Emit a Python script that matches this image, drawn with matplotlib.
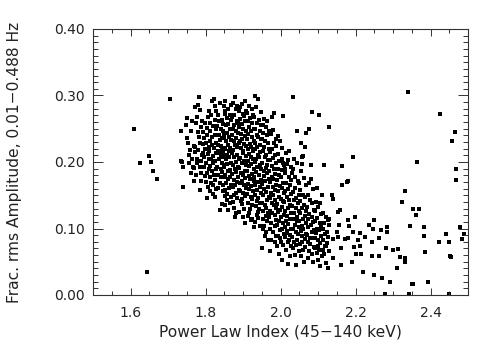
import matplotlib
matplotlib.use("Agg")
import matplotlib.pyplot as plt
from matplotlib.ticker import MultipleLocator, FormatStrFormatter

# ---------------- data (power-law index, fractional rms) ----------------
left_pts = [
    (1.609, 0.249), (1.649, 0.209), (1.624, 0.198), (1.655, 0.200), (1.660, 0.186),
    (1.670, 0.174), (1.706, 0.294), (1.741, 0.162), (1.735, 0.202), (1.739, 0.192),
    (1.735, 0.246), (1.748, 0.255), (1.736, 0.200), (1.739, 0.193), (1.645, 0.035),
]

col_175 = [
    (1.751, 0.266), (1.750, 0.236), (1.754, 0.228), (1.758, 0.218), (1.762, 0.247),
    (1.765, 0.205), (1.757, 0.199), (1.768, 0.191), (1.760, 0.184), (1.767, 0.193),
    (1.770, 0.172), (1.763, 0.262), (1.769, 0.224), (1.755, 0.210),
    (1.773, 0.283), (1.780, 0.285), (1.785, 0.278), (1.776, 0.267), (1.783, 0.297),
    (1.772, 0.215), (1.776, 0.199), (1.775, 0.180), (1.787, 0.183), (1.790, 0.211),
    (1.771, 0.223), (1.785, 0.158), (1.779, 0.245), (1.782, 0.238), (1.786, 0.228),
    (1.788, 0.252), (1.778, 0.205), (1.784, 0.192), (1.789, 0.171), (1.774, 0.258),
    (1.781, 0.218), (1.787, 0.201),
]

col_179 = [
    (1.791, 0.261), (1.799, 0.258), (1.806, 0.267), (1.799, 0.179), (1.803, 0.184),
    (1.793, 0.245), (1.796, 0.236), (1.801, 0.229), (1.805, 0.240), (1.808, 0.222),
    (1.794, 0.214), (1.797, 0.207), (1.802, 0.198), (1.807, 0.212), (1.809, 0.190),
    (1.795, 0.193), (1.800, 0.170), (1.806, 0.163), (1.804, 0.251), (1.792, 0.227),
    (1.808, 0.276), (1.798, 0.219), (1.810, 0.205), (1.803, 0.146),
]

col_181 = [
    (1.816, 0.292), (1.823, 0.294), (1.825, 0.284), (1.828, 0.277),
    (1.815, 0.270), (1.826, 0.263), (1.811, 0.259), (1.821, 0.254), (1.829, 0.250),
    (1.813, 0.246), (1.824, 0.241), (1.818, 0.237), (1.812, 0.232), (1.827, 0.229),
    (1.816, 0.225), (1.822, 0.221), (1.810, 0.217), (1.828, 0.213), (1.819, 0.209),
    (1.814, 0.205), (1.825, 0.202), (1.820, 0.198), (1.812, 0.194), (1.829, 0.190),
    (1.817, 0.186), (1.823, 0.181), (1.811, 0.177), (1.826, 0.173), (1.815, 0.169),
    (1.821, 0.165), (1.828, 0.160), (1.813, 0.156), (1.819, 0.152), (1.824, 0.147),
]

col_183 = [
    (1.848, 0.284), (1.852, 0.272), (1.838, 0.288), (1.834, 0.271), (1.843, 0.263),
    (1.846, 0.257), (1.831, 0.254), (1.840, 0.249), (1.847, 0.246), (1.850, 0.238),
    (1.835, 0.241), (1.839, 0.233), (1.845, 0.236), (1.833, 0.226), (1.842, 0.224),
    (1.849, 0.221), (1.832, 0.217), (1.837, 0.213), (1.846, 0.214), (1.851, 0.207),
    (1.836, 0.204), (1.843, 0.199), (1.848, 0.196), (1.831, 0.193), (1.841, 0.189),
    (1.845, 0.185), (1.834, 0.181), (1.840, 0.177), (1.850, 0.178), (1.838, 0.169),
    (1.846, 0.166), (1.851, 0.149), (1.844, 0.137), (1.839, 0.128), (1.833, 0.161),
    (1.847, 0.156), (1.836, 0.262), (1.844, 0.218), (1.840, 0.208), (1.849, 0.192),
]

col_185 = [
    (1.853, 0.291), (1.867, 0.286), (1.859, 0.279), (1.851, 0.277), (1.864, 0.270),
    (1.856, 0.266), (1.869, 0.263), (1.861, 0.257), (1.854, 0.255), (1.865, 0.249),
    (1.858, 0.244), (1.850, 0.242), (1.862, 0.238), (1.868, 0.233), (1.855, 0.231),
    (1.860, 0.226), (1.866, 0.221), (1.852, 0.219), (1.863, 0.216), (1.857, 0.211),
    (1.862, 0.208), (1.854, 0.205), (1.868, 0.199), (1.857, 0.197), (1.850, 0.193),
    (1.865, 0.188), (1.859, 0.186), (1.852, 0.181), (1.866, 0.178), (1.860, 0.174),
    (1.855, 0.169), (1.869, 0.166), (1.863, 0.161), (1.851, 0.158), (1.858, 0.152),
    (1.867, 0.147), (1.856, 0.143), (1.864, 0.139), (1.853, 0.136), (1.861, 0.128),
]

col_187 = [
    (1.878, 0.297), (1.872, 0.289), (1.885, 0.284), (1.881, 0.280), (1.889, 0.276),
    (1.875, 0.271), (1.870, 0.268), (1.883, 0.262), (1.887, 0.259), (1.877, 0.256),
    (1.873, 0.250), (1.880, 0.247), (1.886, 0.243), (1.871, 0.241), (1.882, 0.236),
    (1.876, 0.232), (1.888, 0.229), (1.879, 0.225), (1.884, 0.222), (1.874, 0.218),
    (1.871, 0.214), (1.883, 0.210), (1.876, 0.207), (1.889, 0.204), (1.880, 0.200),
    (1.873, 0.196), (1.886, 0.192), (1.878, 0.189), (1.882, 0.185), (1.870, 0.182),
    (1.887, 0.178), (1.875, 0.173), (1.884, 0.170), (1.879, 0.166), (1.872, 0.163),
    (1.888, 0.158), (1.881, 0.154), (1.877, 0.151), (1.885, 0.146), (1.874, 0.140),
    (1.875, 0.131), (1.882, 0.124), (1.879, 0.117),
]

col_189 = [
    (1.904, 0.291), (1.896, 0.287), (1.891, 0.282), (1.908, 0.277), (1.899, 0.272),
    (1.902, 0.269), (1.893, 0.265), (1.906, 0.261), (1.897, 0.257), (1.890, 0.253),
    (1.901, 0.249), (1.909, 0.246), (1.894, 0.242), (1.905, 0.239), (1.898, 0.235),
    (1.892, 0.231), (1.903, 0.227), (1.907, 0.224), (1.895, 0.221), (1.900, 0.217),
    (1.899, 0.213), (1.907, 0.209), (1.892, 0.206), (1.902, 0.202), (1.896, 0.198),
    (1.909, 0.195), (1.890, 0.191), (1.904, 0.187), (1.894, 0.184), (1.901, 0.180),
    (1.906, 0.176), (1.897, 0.172), (1.891, 0.169), (1.903, 0.165), (1.908, 0.161),
    (1.893, 0.157), (1.900, 0.153), (1.905, 0.149), (1.898, 0.145), (1.895, 0.141),
    (1.896, 0.137), (1.903, 0.130), (1.890, 0.125), (1.899, 0.118), (1.906, 0.108),
]

col_191 = [
    (1.932, 0.300),
    (1.915, 0.284), (1.923, 0.279), (1.910, 0.274), (1.927, 0.270), (1.919, 0.266),
    (1.912, 0.262), (1.925, 0.258), (1.917, 0.253), (1.929, 0.250), (1.921, 0.246),
    (1.914, 0.242), (1.924, 0.238), (1.911, 0.235), (1.928, 0.231), (1.918, 0.227),
    (1.922, 0.223), (1.913, 0.220), (1.926, 0.216), (1.916, 0.212), (1.920, 0.208),
    (1.926, 0.205), (1.913, 0.201), (1.921, 0.197), (1.917, 0.194), (1.929, 0.190),
    (1.910, 0.186), (1.924, 0.182), (1.915, 0.179), (1.919, 0.175), (1.928, 0.171),
    (1.912, 0.167), (1.922, 0.164), (1.916, 0.160), (1.927, 0.156), (1.911, 0.152),
    (1.920, 0.148), (1.925, 0.144), (1.914, 0.139), (1.923, 0.135), (1.918, 0.129),
    (1.917, 0.124), (1.912, 0.119), (1.924, 0.114), (1.920, 0.113), (1.928, 0.102),
]

col_193 = [
    (1.941, 0.294), (1.934, 0.282), (1.947, 0.275), (1.930, 0.268), (1.943, 0.263),
    (1.938, 0.259), (1.949, 0.255), (1.932, 0.250), (1.945, 0.246), (1.936, 0.241),
    (1.940, 0.238), (1.948, 0.234), (1.933, 0.229), (1.944, 0.226), (1.937, 0.222),
    (1.931, 0.219), (1.946, 0.215), (1.939, 0.211), (1.942, 0.207), (1.935, 0.204),
    (1.932, 0.200), (1.945, 0.196), (1.938, 0.192), (1.949, 0.189), (1.935, 0.185),
    (1.942, 0.181), (1.930, 0.177), (1.947, 0.173), (1.940, 0.170), (1.933, 0.166),
    (1.944, 0.162), (1.937, 0.158), (1.948, 0.154), (1.931, 0.150), (1.941, 0.146),
    (1.936, 0.142), (1.946, 0.138), (1.934, 0.134), (1.943, 0.129), (1.939, 0.125),
    (1.936, 0.120), (1.941, 0.116), (1.931, 0.110), (1.946, 0.104),
]

col_195 = [
    (1.957, 0.265), (1.965, 0.261), (1.952, 0.256), (1.961, 0.252), (1.968, 0.247),
    (1.954, 0.243), (1.963, 0.240), (1.950, 0.235), (1.959, 0.231), (1.966, 0.228),
    (1.956, 0.223), (1.969, 0.219), (1.953, 0.216), (1.962, 0.211), (1.958, 0.208),
    (1.967, 0.203), (1.951, 0.199), (1.964, 0.196), (1.960, 0.191), (1.955, 0.187),
    (1.963, 0.184), (1.955, 0.179), (1.968, 0.175), (1.959, 0.172), (1.951, 0.167),
    (1.966, 0.163), (1.957, 0.160), (1.961, 0.155), (1.953, 0.151), (1.969, 0.148),
    (1.964, 0.143), (1.950, 0.139), (1.958, 0.136), (1.962, 0.131), (1.954, 0.127),
    (1.967, 0.124), (1.960, 0.119), (1.952, 0.115), (1.965, 0.111), (1.956, 0.104),
    (1.954, 0.099), (1.962, 0.094), (1.958, 0.088), (1.967, 0.082), (1.951, 0.070),
]

col_197 = [
    (1.976, 0.267), (1.982, 0.273), (1.981, 0.248), (1.988, 0.234), (1.972, 0.100),
    (1.985, 0.104), (1.974, 0.109), (1.988, 0.113), (1.990, 0.074),
    (1.974, 0.242), (1.982, 0.229), (1.988, 0.224), (1.977, 0.220), (1.971, 0.215),
    (1.985, 0.211), (1.980, 0.206), (1.973, 0.203), (1.989, 0.198), (1.978, 0.194),
    (1.983, 0.190), (1.970, 0.186), (1.986, 0.182), (1.976, 0.178), (1.981, 0.175),
    (1.972, 0.170), (1.987, 0.166), (1.979, 0.163), (1.984, 0.158), (1.975, 0.154),
    (1.980, 0.151), (1.971, 0.146), (1.986, 0.143), (1.976, 0.139), (1.983, 0.135),
    (1.989, 0.131), (1.973, 0.127), (1.978, 0.123), (1.985, 0.120), (1.970, 0.117),
    (1.981, 0.094), (1.988, 0.089), (1.975, 0.083), (1.984, 0.079), (1.972, 0.066),
]

col_199 = [
    (1.994, 0.239), (1.999, 0.231), (2.003, 0.221), (2.006, 0.269), (1.994, 0.189),
    (2.003, 0.188), (2.007, 0.198), (1.999, 0.085),
    (1.992, 0.212), (2.004, 0.205), (1.997, 0.201), (2.009, 0.195), (1.995, 0.181),
    (2.001, 0.178), (1.990, 0.173), (2.007, 0.169), (1.998, 0.164), (2.003, 0.161),
    (1.993, 0.156), (2.008, 0.153), (1.996, 0.148), (2.000, 0.145), (2.006, 0.141),
    (1.991, 0.137), (2.005, 0.133), (1.999, 0.128), (1.994, 0.125), (2.009, 0.121),
    (2.002, 0.117), (1.996, 0.112), (2.007, 0.109), (1.991, 0.105), (2.004, 0.100),
    (1.998, 0.097), (2.008, 0.092), (1.993, 0.089), (2.001, 0.080), (2.006, 0.075),
    (1.997, 0.061), (2.003, 0.052),
]

col_201 = [
    (2.014, 0.214), (2.023, 0.217), (2.019, 0.203), (2.012, 0.189), (2.016, 0.093),
    (2.016, 0.197), (2.027, 0.192), (2.011, 0.184), (2.022, 0.178), (2.029, 0.173),
    (2.014, 0.168), (2.025, 0.165), (2.019, 0.160), (2.012, 0.156), (2.028, 0.152),
    (2.017, 0.147), (2.023, 0.143), (2.010, 0.140), (2.026, 0.135), (2.020, 0.131),
    (2.013, 0.127), (2.029, 0.124), (2.018, 0.119), (2.024, 0.115), (2.015, 0.111),
    (2.021, 0.107), (2.011, 0.103), (2.027, 0.099), (2.017, 0.096), (2.025, 0.090),
    (2.013, 0.087), (2.022, 0.083), (2.019, 0.079), (2.028, 0.074), (2.014, 0.067),
    (2.024, 0.059), (2.020, 0.046),
]

col_203 = [
    (2.033, 0.297), (2.043, 0.247), (2.034, 0.190), (2.039, 0.178), (2.048, 0.168),
    (2.036, 0.204), (2.044, 0.198), (2.031, 0.184), (2.047, 0.172), (2.039, 0.161),
    (2.033, 0.155), (2.049, 0.151), (2.042, 0.146), (2.035, 0.143), (2.046, 0.138),
    (2.030, 0.134), (2.041, 0.131), (2.048, 0.126), (2.037, 0.123), (2.043, 0.118),
    (2.032, 0.114), (2.045, 0.111), (2.038, 0.106), (2.049, 0.103), (2.034, 0.099),
    (2.040, 0.095), (2.047, 0.091), (2.031, 0.087), (2.044, 0.083), (2.036, 0.079),
    (2.042, 0.075), (2.033, 0.070), (2.048, 0.066), (2.039, 0.060), (2.041, 0.045),
]

col_205 = [
    (2.055, 0.229), (2.064, 0.223), (2.058, 0.208), (2.067, 0.243), (2.059, 0.209),
    (2.056, 0.197), (2.056, 0.080),
    (2.054, 0.186), (2.062, 0.176), (2.068, 0.165), (2.052, 0.158), (2.059, 0.151),
    (2.066, 0.147), (2.051, 0.141), (2.063, 0.136), (2.057, 0.131), (2.069, 0.127),
    (2.053, 0.123), (2.065, 0.119), (2.060, 0.115), (2.050, 0.111), (2.067, 0.108),
    (2.056, 0.104), (2.061, 0.100), (2.054, 0.096), (2.068, 0.092), (2.058, 0.088),
    (2.064, 0.084), (2.052, 0.076), (2.066, 0.072), (2.060, 0.067), (2.055, 0.058),
    (2.063, 0.050),
]

col_207 = [
    (2.077, 0.250), (2.085, 0.275), (2.081, 0.195), (2.081, 0.175), (2.074, 0.080),
    (2.079, 0.085), (2.088, 0.098),
    (2.075, 0.168), (2.086, 0.160), (2.072, 0.150), (2.079, 0.143), (2.084, 0.138),
    (2.071, 0.132), (2.089, 0.128), (2.077, 0.122), (2.083, 0.118), (2.073, 0.114),
    (2.087, 0.110), (2.080, 0.106), (2.074, 0.102), (2.085, 0.094), (2.070, 0.090),
    (2.082, 0.086), (2.078, 0.077), (2.088, 0.072), (2.076, 0.066), (2.083, 0.062),
    (2.072, 0.055), (2.086, 0.049),
]

col_209 = [
    (2.092, 0.085), (2.099, 0.074), (2.096, 0.161), (2.103, 0.271), (2.110, 0.150),
    (2.105, 0.138),
    (2.095, 0.140), (2.101, 0.132), (2.093, 0.127), (2.107, 0.122), (2.098, 0.116),
    (2.091, 0.112), (2.104, 0.109), (2.109, 0.104), (2.096, 0.100), (2.102, 0.097),
    (2.094, 0.093), (2.108, 0.089), (2.100, 0.082), (2.106, 0.078), (2.092, 0.071),
    (2.103, 0.068), (2.097, 0.063), (2.110, 0.058), (2.099, 0.052), (2.105, 0.044),
    (2.116, 0.196), (2.128, 0.253),
    (2.113, 0.124), (2.121, 0.118), (2.126, 0.113), (2.117, 0.109), (2.129, 0.105),
    (2.114, 0.100), (2.123, 0.095), (2.119, 0.091), (2.127, 0.087), (2.112, 0.083),
    (2.124, 0.078), (2.118, 0.073), (2.128, 0.066), (2.115, 0.062), (2.122, 0.048),
    (2.126, 0.040),
]

right_pts = [
    (2.136, 0.151), (2.141, 0.144), (2.154, 0.125), (2.159, 0.128), (2.130, 0.114),
    (2.181, 0.113), (2.199, 0.118), (2.157, 0.105), (2.183, 0.104), (2.194, 0.094),
    (2.212, 0.093), (2.237, 0.105), (2.250, 0.113), (2.247, 0.099), (2.267, 0.098),
    (2.285, 0.102), (2.285, 0.094), (2.226, 0.087), (2.206, 0.082), (2.243, 0.080),
    (2.263, 0.086), (2.181, 0.085), (2.172, 0.084), (2.161, 0.070), (2.197, 0.072),
    (2.212, 0.073), (2.215, 0.061), (2.243, 0.059), (2.263, 0.059), (2.281, 0.071),
    (2.301, 0.068), (2.314, 0.069), (2.319, 0.057), (2.331, 0.056), (2.332, 0.049),
    (2.139, 0.084), (2.154, 0.087), (2.150, 0.095), (2.120, 0.073), (2.112, 0.068),
    (2.163, 0.194), (2.194, 0.208), (2.178, 0.170), (2.179, 0.171), (2.163, 0.166),
    (2.332, 0.156), (2.323, 0.140), (2.354, 0.129), (2.369, 0.129), (2.360, 0.121),
    (2.345, 0.104), (2.383, 0.102), (2.382, 0.089), (2.440, 0.091), (2.423, 0.079),
    (2.448, 0.080), (2.479, 0.102), (2.488, 0.092), (2.484, 0.084), (2.386, 0.064),
    (2.453, 0.058), (2.455, 0.057), (2.341, 0.306), (2.425, 0.272), (2.464, 0.245),
    (2.457, 0.232), (2.363, 0.200), (2.468, 0.190), (2.468, 0.173),
]

bottom_pts = [
    (2.351, 0.017), (2.353, 0.017), (2.394, 0.019), (2.292, 0.020), (2.279, 0.002),
    (2.342, 0.001), (2.450, 0.001), (2.160, 0.045), (2.190, 0.050), (2.220, 0.035),
    (2.250, 0.030), (2.270, 0.025), (2.140, 0.055), (2.200, 0.062), (2.310, 0.040),
]

groups = [left_pts, col_175, col_179, col_181, col_183, col_185, col_187, col_189,
          col_191, col_193, col_195, col_197, col_199, col_201, col_203, col_205,
          col_207, col_209, right_pts, bottom_pts]
xs = [p[0] for g in groups for p in g]
ys = [p[1] for g in groups for p in g]

x_label = "Power Law Index (45\u2212140 keV)"
y_label = "Frac. rms Amplitude, 0.01\u22120.488 Hz"

# ---------------- figure ----------------
plt.rcParams['font.family'] = ['DejaVu Sans']
fig = plt.figure(figsize=(4.96, 3.54), dpi=100)
ax = fig.add_axes([93/496, 59/354, 375/496, 266/354])

ax.scatter(xs, ys, marker='s', s=5.5, c='black', linewidths=0, clip_on=True)

ax.set_xlim(1.5, 2.5)
ax.set_ylim(0.0, 0.4)
ax.xaxis.set_major_locator(MultipleLocator(0.2))
ax.xaxis.set_minor_locator(MultipleLocator(0.05))
ax.yaxis.set_major_locator(MultipleLocator(0.1))
ax.yaxis.set_minor_locator(MultipleLocator(0.01))
ax.xaxis.set_major_formatter(FormatStrFormatter('%.1f'))
ax.yaxis.set_major_formatter(FormatStrFormatter('%.2f'))

txt = '#222222'
ax.tick_params(which='both', direction='in', top=True, right=True,
               color='#333333', width=0.7, labelcolor=txt)
ax.tick_params(axis='x', which='major', length=5.3, labelsize=10, pad=8)
ax.tick_params(axis='x', which='minor', length=2.7)
ax.tick_params(axis='y', which='major', length=7.5, labelsize=10, pad=6)
ax.tick_params(axis='y', which='minor', length=3.8)
for s in ax.spines.values():
    s.set_color('#333333')
    s.set_linewidth(0.8)

ax.set_xlabel(x_label, fontsize=11.2, color=txt, labelpad=3)
ax.set_ylabel(y_label, fontsize=11.2, color=txt)
ax.yaxis.set_label_coords(-0.19, 0.5)

fig.savefig("out.png", dpi=100)
